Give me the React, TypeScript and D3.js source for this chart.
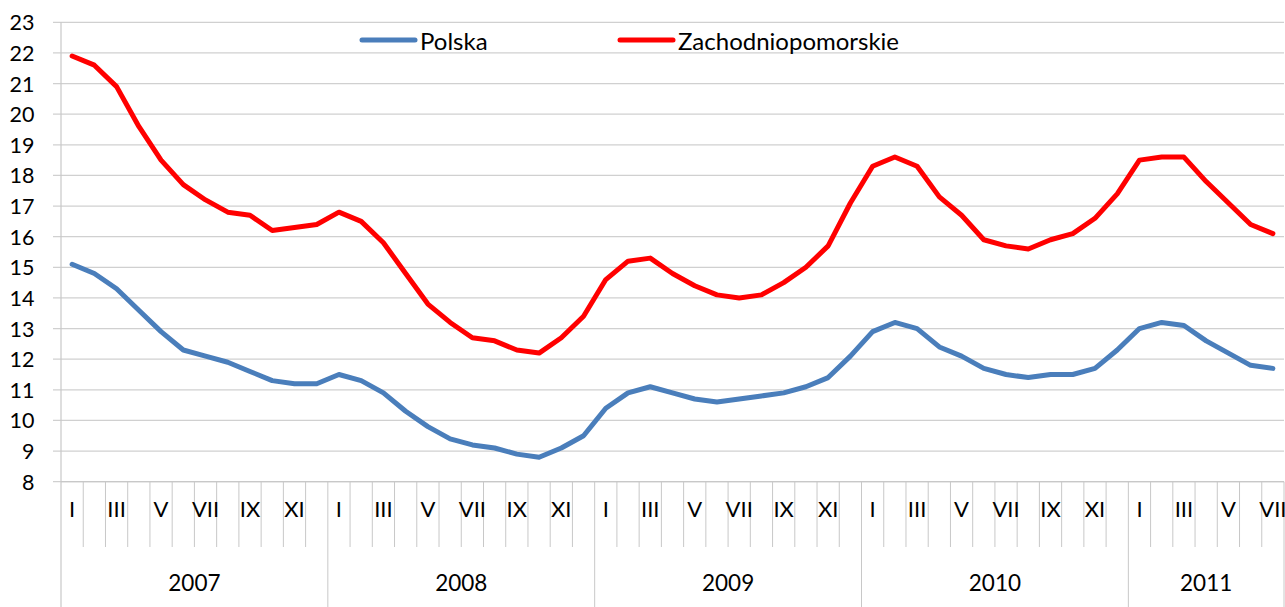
import * as d3 from 'd3'
import React, { useRef, useEffect } from 'react'

const years = ['2007', '2008', '2009', '2010', '2011']
const monthsPerYear = [12, 12, 12, 12, 7]
const romanMonths = ['I', 'II', 'III', 'IV', 'V', 'VI', 'VII', 'VIII', 'IX', 'X', 'XI', 'XII']
const yTicks = [8, 9, 10, 11, 12, 13, 14, 15, 16, 17, 18, 19, 20, 21, 22, 23]

const polska = [
  15.1, 14.8, 14.3, 13.6, 12.9, 12.3, 12.1, 11.9, 11.6, 11.3, 11.2, 11.2,
  11.5, 11.3, 10.9, 10.3, 9.8, 9.4, 9.2, 9.1, 8.9, 8.8, 9.1, 9.5,
  10.4, 10.9, 11.1, 10.9, 10.7, 10.6, 10.7, 10.8, 10.9, 11.1, 11.4, 12.1,
  12.9, 13.2, 13.0, 12.4, 12.1, 11.7, 11.5, 11.4, 11.5, 11.5, 11.7, 12.3,
  13.0, 13.2, 13.1, 12.6, 12.2, 11.8, 11.7,
]

const zachodniopomorskie = [
  21.9, 21.6, 20.9, 19.6, 18.5, 17.7, 17.2, 16.8, 16.7, 16.2, 16.3, 16.4,
  16.8, 16.5, 15.8, 14.8, 13.8, 13.2, 12.7, 12.6, 12.3, 12.2, 12.7, 13.4,
  14.6, 15.2, 15.3, 14.8, 14.4, 14.1, 14.0, 14.1, 14.5, 15.0, 15.7, 17.1,
  18.3, 18.6, 18.3, 17.3, 16.7, 15.9, 15.7, 15.6, 15.9, 16.1, 16.6, 17.4,
  18.5, 18.6, 18.6, 17.8, 17.1, 16.4, 16.1,
]

const seriesList = [
  { name: 'Polska', values: polska, color: '#4a7ebb' },
  { name: 'Zachodniopomorskie', values: zachodniopomorskie, color: '#ff0000' },
]

const App = () => {
  const ref = useRef<SVGSVGElement | null>(null)

  useEffect(() => {
    const svg = d3.select(ref.current)
    svg.selectAll('*').remove()

    const height = 607
    const left = 61
    const right = 1284
    const top = 22.3
    const bottom = 481.7
    const font = 'Lato, "Open Sans", sans-serif'

    // month categories
    const cats: { year: string, month: number }[] = []
    years.forEach((y, yi) => {
      d3.range(monthsPerYear[yi]).forEach(m => cats.push({ year: y, month: m }))
    })
    const keys = cats.map((c, i) => String(i))

    const x = d3.scaleBand().domain(keys).range([left, right]).padding(0)
    const y = d3.scaleLinear().domain([8, 23]).range([bottom, top])

    // horizontal gridlines
    svg.append('g')
      .selectAll('line')
      .data(yTicks)
      .enter().append('line')
      .attr('x1', left - 8)
      .attr('x2', right)
      .attr('y1', d => y(d))
      .attr('y2', d => y(d))
      .attr('stroke', '#d0d0d0')
      .attr('stroke-width', 1.2)

    // y labels
    svg.append('g')
      .selectAll('text')
      .data(yTicks)
      .enter().append('text')
      .attr('x', 34.5)
      .attr('y', d => y(d))
      .attr('text-anchor', 'end')
      .attr('dominant-baseline', 'central')
      .style('font-family', font)
      .style('font-size', '21.5px')
      .attr('fill', '#000')
      .text(d => d)

    // vertical axis line
    svg.append('line')
      .attr('x1', left).attr('x2', left)
      .attr('y1', top).attr('y2', height)
      .attr('stroke', '#c8c8c8')
      .attr('stroke-width', 1.2)

    // month separators under the axis
    svg.append('g')
      .selectAll('line')
      .data(keys.slice(1).concat(['end']))
      .enter().append('line')
      .attr('x1', d => d === 'end' ? right : x(d)!)
      .attr('x2', d => d === 'end' ? right : x(d)!)
      .attr('y1', bottom)
      .attr('y2', (d, i) => {
        const c = cats[i + 1]
        return (d === 'end' || (c && c.month === 0)) ? height : 547
      })
      .attr('stroke', '#c8c8c8')
      .attr('stroke-width', 1)

    // month labels (odd months)
    svg.append('g')
      .selectAll('text')
      .data(cats.map((c, i) => ({ ...c, key: keys[i] })).filter(c => c.month % 2 === 0))
      .enter().append('text')
      .attr('x', d => x(d.key)! + x.bandwidth() / 2)
      .attr('y', 508)
      .attr('text-anchor', 'middle')
      .attr('dominant-baseline', 'central')
      .style('font-family', font)
      .style('font-size', '22px')
      .text(d => romanMonths[d.month])

    // year labels
    let start = 0
    years.forEach((yr, yi) => {
      const n = monthsPerYear[yi]
      const x0 = x(keys[start])!
      const x1 = x(keys[start + n - 1])! + x.bandwidth()
      svg.append('text')
        .attr('x', (x0 + x1) / 2)
        .attr('y', 582)
        .attr('text-anchor', 'middle')
        .attr('dominant-baseline', 'central')
        .style('font-family', font)
        .style('font-size', '22.5px')
        .text(yr)
      start += n
    })

    // x axis line
    svg.append('line')
      .attr('x1', left).attr('x2', right)
      .attr('y1', bottom).attr('y2', bottom)
      .attr('stroke', '#c8c8c8')
      .attr('stroke-width', 1.2)

    // series
    const line = d3.line<number>()
      .x((d, i) => x(keys[i])! + x.bandwidth() / 2)
      .y(d => y(d))

    seriesList.forEach(s => {
      svg.append('path')
        .datum(s.values)
        .attr('d', line)
        .attr('fill', 'none')
        .attr('stroke', s.color)
        .attr('stroke-width', 5)
        .attr('stroke-linejoin', 'round')
        .attr('stroke-linecap', 'round')
    })

    // legend
    const legendPos = [362, 620]
    seriesList.forEach((s, i) => {
      const lx = legendPos[i]
      svg.append('line')
        .attr('x1', lx).attr('x2', lx + 53)
        .attr('y1', 40).attr('y2', 40)
        .attr('stroke', s.color)
        .attr('stroke-width', 5)
        .attr('stroke-linecap', 'round')
      svg.append('text')
        .attr('x', lx + 58)
        .attr('y', 40)
        .attr('dominant-baseline', 'central')
        .style('font-family', font)
        .style('font-size', '24px')
        .text(s.name)
    })
  }, [])

  return (
    <svg ref={ref} width={1285} height={607}
      style={{ position: 'absolute', left: 0, top: 0, background: '#fff' }} />
  )
}

export default App
